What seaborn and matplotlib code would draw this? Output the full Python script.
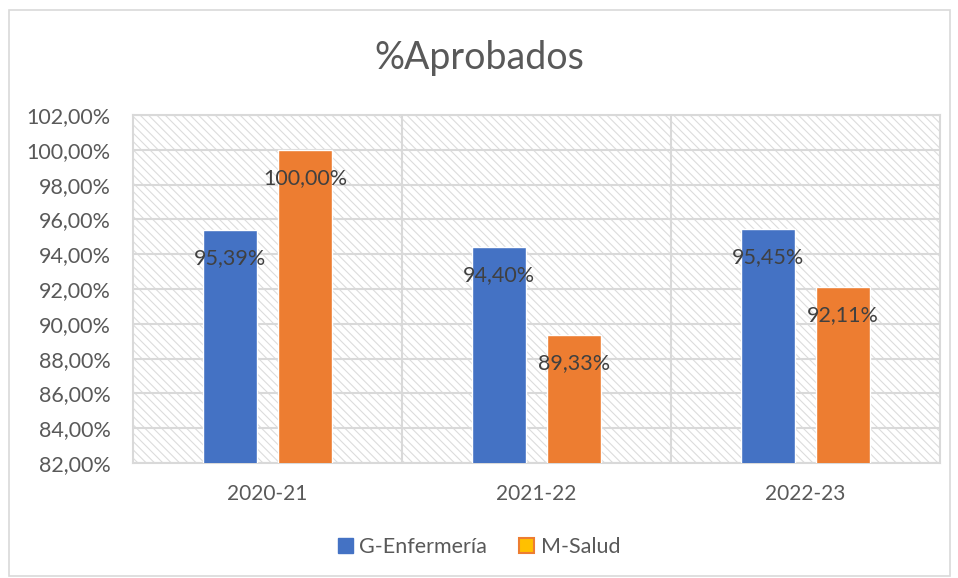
import matplotlib
matplotlib.use("Agg")
import matplotlib.pyplot as plt
import seaborn as sns
import pandas as pd
from matplotlib.patches import Rectangle, Patch
from matplotlib.ticker import FuncFormatter

categories = ["2020-21", "2021-22", "2022-23"]
series_names = ["G-Enfermería", "M-Salud"]
g_enfermeria = [95.39, 94.40, 95.45]
m_salud = [100.00, 89.33, 92.11]
y_ticks = [82, 84, 86, 88, 90, 92, 94, 96, 98, 100, 102]

df = pd.DataFrame({
    "curso": categories * 2,
    "serie": [series_names[0]] * 3 + [series_names[1]] * 3,
    "valor": g_enfermeria + m_salud,
})

sns.set_theme(style="white")
plt.rcParams["font.family"] = ["Lato", "DejaVu Sans"]
plt.rcParams["hatch.linewidth"] = 0.8

fig = plt.figure(figsize=(9.58, 5.78), dpi=100)
fig.patches.append(Rectangle((9 / 958, 1 - 576 / 578), 941 / 958, 566 / 578,
                             transform=fig.transFigure, fill=False,
                             edgecolor="#d9d9d9", lw=1.2))
ax = fig.add_axes([133 / 958, 1 - 463 / 578, (940 - 133) / 958, (463 - 115) / 578])

colors = {"G-Enfermería": "#4472C4", "M-Salud": "#ED7D31"}
sns.barplot(data=df, x="curso", y="valor", hue="serie", palette=colors,
            width=0.557, gap=0.29, ax=ax, legend=False, zorder=3,
            saturation=1)

ax.set_ylim(82, 102)
ax.set_xlim(-0.5, 2.5)
ax.set_yticks(y_ticks)
ax.yaxis.set_major_formatter(FuncFormatter(lambda v, p: f"{v:.2f}".replace(".", ",") + "%"))
ax.set_xlabel("")
ax.set_ylabel("")

# hatched background
ax.add_patch(Rectangle((0, 0), 1, 1, transform=ax.transAxes, hatch="\\\\\\\\",
                       fill=False, edgecolor="#dcdcdc", lw=0, zorder=0))
for y in y_ticks:
    ax.axhline(y, color="#d9d9d9", lw=1.5, zorder=1)
for x in [0.5, 1.5]:
    ax.axvline(x, color="#d9d9d9", lw=1.5, zorder=1)
for s in ax.spines.values():
    s.set_color("#d9d9d9")
    s.set_linewidth(1.5)

ax.tick_params(axis="y", length=0, labelsize=15.5, labelcolor="#595959", pad=16)
ax.tick_params(axis="x", length=0, labelsize=15, labelcolor="#595959", pad=15)

for cont in ax.containers:
    for bar in cont:
        h = bar.get_height()
        ax.annotate(f"{h:.2f}".replace(".", ",") + "%",
                    (bar.get_x() + bar.get_width() / 2, h),
                    xytext=(0, -28), textcoords="offset pixels",
                    ha="center", va="center", fontsize=15.5, color="#404040", zorder=5)

fig.text(0.5, 1 - 58 / 578, "%Aprobados", ha="center", va="center",
         fontsize=27, color="#595959")

handles = [Patch(facecolor="#4472C4", edgecolor="#4472C4"),
           Patch(facecolor="#FFC000", edgecolor="#ED7D31", lw=1.5)]
fig.legend(handles, series_names, loc="center", bbox_to_anchor=(0.5, 1 - 547 / 578),
           ncol=2, frameon=False, fontsize=15.5, labelcolor="#595959",
           handlelength=0.7, handleheight=0.7, handletextpad=0.3, columnspacing=1.5)

fig.savefig("out.png", dpi=100)
